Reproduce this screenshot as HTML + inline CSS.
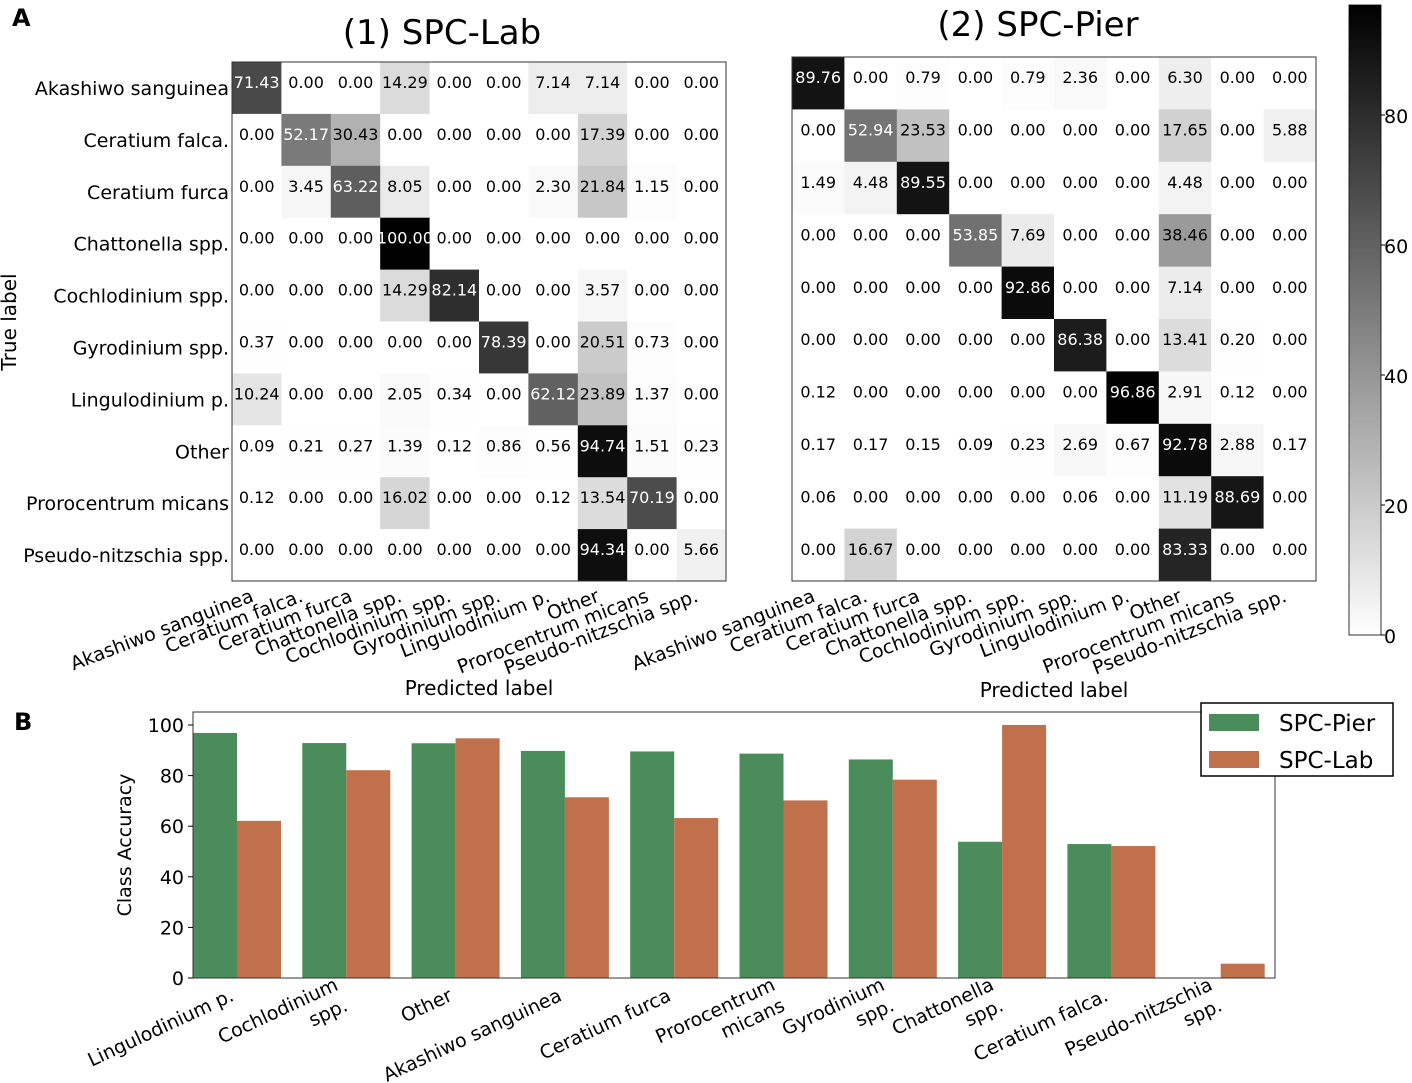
<!DOCTYPE html>
<html><head><meta charset="utf-8"><style>
body{margin:0;background:#fff;}
svg{display:block;font-family:"DejaVu Sans","Liberation Sans",sans-serif;}
</style></head><body>
<svg id="fig" width="1412" height="1083" viewBox="0 0 1412 1083" xmlns="http://www.w3.org/2000/svg">
<defs><linearGradient id="cbg" x1="0" y1="1" x2="0" y2="0"><stop offset="0" stop-color="#fff"/><stop offset="1" stop-color="#000"/></linearGradient></defs>
<text x="12" y="26" font-size="24" font-weight="bold">A</text>
<text x="14" y="730" font-size="24" font-weight="bold">B</text>
<text x="442" y="44" font-size="34" text-anchor="middle">(1) SPC-Lab</text>
<text x="1038" y="36" font-size="34" text-anchor="middle">(2) SPC-Pier</text>
<text transform="translate(16,322) rotate(-90)" font-size="20" text-anchor="middle">True label</text>
<text x="479" y="695" font-size="20" text-anchor="middle">Predicted label</text>
<text x="1054" y="697" font-size="20" text-anchor="middle">Predicted label</text>
<rect x="1349" y="5" width="32" height="630" fill="url(#cbg)" stroke="#000" stroke-width="0.8"/>
<g id="cbticks"></g>
<g id="hm1"></g><g id="hm2"></g><g id="bars"></g>
<text transform="translate(131,845) rotate(-90)" font-size="19" text-anchor="middle">Class Accuracy</text>
<g>
<rect x="1201" y="703" width="192" height="73" fill="#fff" stroke="#000" stroke-width="1.5"/>
<rect x="1209" y="714" width="50" height="17" fill="#4a8c5a"/>
<text x="1279" y="731" font-size="23">SPC-Pier</text>
<rect x="1209" y="751" width="50" height="17" fill="#c0714b"/>
<text x="1279" y="768" font-size="23">SPC-Lab</text>
</g>
</svg>
<script>
const NS="http://www.w3.org/2000/svg";
const classes=["Akashiwo sanguinea","Ceratium falca.","Ceratium furca","Chattonella spp.","Cochlodinium spp.","Gyrodinium spp.","Lingulodinium p.","Other","Prorocentrum micans","Pseudo-nitzschia spp."];
const labMatrix=[
[71.43,0,0,14.29,0,0,7.14,7.14,0,0],
[0,52.17,30.43,0,0,0,0,17.39,0,0],
[0,3.45,63.22,8.05,0,0,2.30,21.84,1.15,0],
[0,0,0,100,0,0,0,0,0,0],
[0,0,0,14.29,82.14,0,0,3.57,0,0],
[0.37,0,0,0,0,78.39,0,20.51,0.73,0],
[10.24,0,0,2.05,0.34,0,62.12,23.89,1.37,0],
[0.09,0.21,0.27,1.39,0.12,0.86,0.56,94.74,1.51,0.23],
[0.12,0,0,16.02,0,0,0.12,13.54,70.19,0],
[0,0,0,0,0,0,0,94.34,0,5.66]];
const pierMatrix=[
[89.76,0,0.79,0,0.79,2.36,0,6.30,0,0],
[0,52.94,23.53,0,0,0,0,17.65,0,5.88],
[1.49,4.48,89.55,0,0,0,0,4.48,0,0],
[0,0,0,53.85,7.69,0,0,38.46,0,0],
[0,0,0,0,92.86,0,0,7.14,0,0],
[0,0,0,0,0,86.38,0,13.41,0.20,0],
[0.12,0,0,0,0,0,96.86,2.91,0.12,0],
[0.17,0.17,0.15,0.09,0.23,2.69,0.67,92.78,2.88,0.17],
[0.06,0,0,0,0,0.06,0,11.19,88.69,0],
[0,16.67,0,0,0,0,0,83.33,0,0]];
const cbTicks=[0,20,40,60,80];
const barCats=[["Lingulodinium p."],["Cochlodinium","spp."],["Other"],["Akashiwo sanguinea"],["Ceratium furca"],["Prorocentrum","micans"],["Gyrodinium","spp."],["Chattonella","spp."],["Ceratium falca."],["Pseudo-nitzschia","spp."]];
const pierAcc=[96.86,92.86,92.78,89.76,89.55,88.69,86.38,53.85,52.94,0];
const labAcc=[62.12,82.14,94.74,71.43,63.22,70.19,78.39,100,52.17,5.66];
const yTicks=[0,20,40,60,80,100];

function el(tag,attrs,parent,text){const e=document.createElementNS(NS,tag);for(const k in attrs)e.setAttribute(k,attrs[k]);if(text!==undefined)e.textContent=text;parent.appendChild(e);return e;}

function heatmap(g,M,x0,y0,x1,y1,showY,prefix){
  const n=classes.length,cw=(x1-x0)/n,ch=(y1-y0)/n;
  let mx=0;M.forEach(r=>r.forEach(v=>{if(v>mx)mx=v;}));
  for(let i=0;i<n;i++)for(let j=0;j<n;j++){
    const v=M[i][j],t=v/mx,c=Math.round(255*(1-t));
    const r=el('rect',{x:x0+j*cw,y:y0+i*ch,width:cw+0.5,height:ch+0.5,fill:`rgb(${c},${c},${c})`},g);
    
    
  }
  for(let i=0;i<n;i++)for(let j=0;j<n;j++){
    const v=M[i][j];
    const tx=el('text',{x:x0+j*cw+cw/2,y:y0+i*ch+ch*0.5,'font-size':16,'text-anchor':'middle',fill:v>mx/2?'#fff':'#000'},g,v.toFixed(2));
    
    
  }
  el('rect',{x:x0,y:y0,width:x1-x0,height:y1-y0,fill:'none',stroke:'#333','stroke-width':1},g);
  for(let j=0;j<n;j++){
    const tx=x0+j*cw+cw/2;
    const lt=el('text',{transform:`translate(${tx-2},${y1+20}) rotate(-21)`,'font-size':19,'text-anchor':'end'},g,classes[j]);
    
    
    if(showY){
      const yl=el('text',{x:x0-3,y:y0+j*ch+ch*0.5+7,'font-size':19,'text-anchor':'end'},g,classes[j]);
      
      
    }
  }
}
heatmap(document.getElementById('hm1'),labMatrix,232,62,726,581,true,'spc-lab');
heatmap(document.getElementById('hm2'),pierMatrix,792,57,1316,581,false,'spc-pier');

const cbg=document.getElementById('cbticks');
const cbY=v=>635-v*6.5;
cbTicks.forEach(v=>{
  el('line',{x1:1381,x2:1385,y1:cbY(v),y2:cbY(v),stroke:'#000'},cbg);
  const t=el('text',{x:1384,y:cbY(v)+8,'font-size':19},cbg,String(v));
  
  
});

const bg=document.getElementById('bars');
const bx0=193,bx1=1275,by0=978,ppu=2.53;
const yS=v=>by0-v*ppu;
const bw=44,c0=bx0+bw,step=109.3;
barCats.forEach((c,i)=>{
  const cx=c0+step*i;
  const r1=el('rect',{x:cx-bw,y:yS(pierAcc[i]),width:bw,height:pierAcc[i]*ppu,fill:'#4a8c5a'},bg);
  
  
  const r2=el('rect',{x:cx,y:yS(labAcc[i]),width:bw,height:labAcc[i]*ppu,fill:'#c0714b'},bg);
  
  
  const t=el('text',{transform:`translate(${cx-2},${by0+22}) rotate(-25)`,'font-size':19,'text-anchor':'end'},bg);
  
  
  c.forEach((ln,k)=>{el('tspan',{x:0,dy:k===0?(c.length>1?-12:0):23},t,ln);});
});
el('rect',{x:bx0,y:712,width:bx1-bx0,height:by0-712,fill:'none',stroke:'#333','stroke-width':1},bg);
yTicks.forEach(v=>{
  el('line',{x1:bx0-5,x2:bx0,y1:yS(v),y2:yS(v),stroke:'#000'},bg);
  const t=el('text',{x:bx0-9,y:yS(v)+7,'font-size':19,'text-anchor':'end'},bg,String(v));
  
  
});
</script>
</body></html>
